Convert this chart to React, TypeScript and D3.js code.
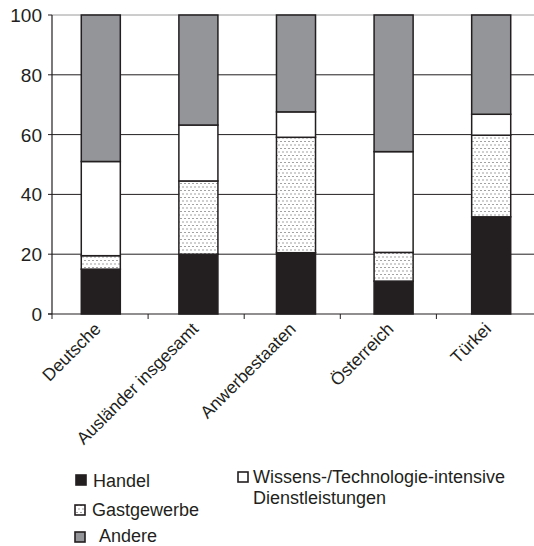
import React, { useEffect, useRef } from 'react';
import * as d3 from 'd3';

// categories and series (percent shares)
const categories = ['Deutsche', 'Ausländer insgesamt', 'Anwerbestaaten', 'Österreich', 'Türkei'];
const handel = [15, 20, 20.5, 11, 32.5];
const gastgewerbe = [4.5, 24.5, 38.6, 9.6, 27.3];
const wissens = [31.5, 18.7, 8.5, 33.7, 7];
const andere = [49, 36.8, 32.4, 45.7, 33.2];
const yTicks = [0, 20, 40, 60, 80, 100];

const seriesKeys = ['handel', 'gast', 'wissens', 'andere'];

const App: React.FC = () => {
  const svgRef = useRef<SVGSVGElement | null>(null);

  useEffect(() => {
    if (!svgRef.current) return;
    const svg = d3.select(svgRef.current);
    svg.selectAll('*').remove();
    const font = 'Liberation Sans, Arial, Helvetica, sans-serif';
    const dark = '#231f20';

    const left = 52;
    const right = 540;
    const top = 15;
    const bottom = 314;

    const x = d3.scaleBand<string>().domain(categories).range([left, right]).paddingInner(0.6).paddingOuter(0.3);
    const y = d3.scaleLinear().domain([0, 100]).range([bottom, top]);

    // dotted pattern
    const defs = svg.append('defs');
    const pat = defs.append('pattern')
      .attr('id', 'dots')
      .attr('patternUnits', 'userSpaceOnUse')
      .attr('width', 4)
      .attr('height', 7);
    pat.append('rect').attr('width', 4).attr('height', 7).attr('fill', '#fff');
    pat.append('rect').attr('x', 0.5).attr('y', 1).attr('width', 1).attr('height', 1).attr('fill', '#444');
    pat.append('rect').attr('x', 2.5).attr('y', 4.5).attr('width', 1).attr('height', 1).attr('fill', '#444');

    // gridlines
    svg.append('g')
      .selectAll('line')
      .data(yTicks.filter(t => t > 0))
      .join('line')
      .attr('x1', left)
      .attr('x2', 534)
      .attr('y1', d => y(d))
      .attr('y2', d => y(d))
      .attr('stroke', d => (d === 100 ? '#9a9a9a' : dark))
      .attr('stroke-width', 1);

    // stacked bars
    const rows = categories.map((c, i) => ({
      cat: c,
      handel: handel[i],
      gast: gastgewerbe[i],
      wissens: wissens[i],
      andere: andere[i],
    }));
    const stacked = d3.stack<any>().keys(seriesKeys)(rows);
    const fills: Record<string, string> = {
      handel: dark,
      gast: 'url(#dots)',
      wissens: '#ffffff',
      andere: '#939598',
    };

    svg.append('g')
      .selectAll('g')
      .data(stacked)
      .join('g')
      .attr('fill', d => fills[d.key])
      .selectAll('rect')
      .data(d => d)
      .join('rect')
      .attr('x', d => x(d.data.cat) as number)
      .attr('y', d => y(d[1]))
      .attr('width', x.bandwidth())
      .attr('height', d => y(d[0]) - y(d[1]))
      .attr('stroke', dark)
      .attr('stroke-width', 1.5);

    // y axis
    const yAxis = svg.append('g');
    yAxis.append('line')
      .attr('x1', left).attr('x2', left)
      .attr('y1', top).attr('y2', bottom)
      .attr('stroke', dark).attr('stroke-width', 1.2);
    yAxis.selectAll('line.tick')
      .data(yTicks)
      .join('line')
      .attr('class', 'tick')
      .attr('x1', left - 4).attr('x2', left)
      .attr('y1', d => y(d)).attr('y2', d => y(d))
      .attr('stroke', dark);
    yAxis.selectAll('text')
      .data(yTicks)
      .join('text')
      .attr('x', left - 10)
      .attr('y', d => y(d) + 7)
      .attr('text-anchor', 'end')
      .attr('font-family', font)
      .attr('font-size', 19)
      .attr('fill', dark)
      .text(d => d);

    // x axis
    const xAxis = svg.append('g');
    xAxis.append('line')
      .attr('x1', left - 4).attr('x2', 534)
      .attr('y1', bottom).attr('y2', bottom)
      .attr('stroke', dark).attr('stroke-width', 1.2);
    xAxis.selectAll('line.tick')
      .data(categories)
      .join('line')
      .attr('class', 'tick')
      .attr('x1', (d, i) => (x(d) as number) - x.bandwidth() * 0.75 - i * 1.5)
      .attr('x2', (d, i) => (x(d) as number) - x.bandwidth() * 0.75 - i * 1.5)
      .attr('y1', bottom).attr('y2', bottom + 5)
      .attr('stroke', dark);
    xAxis.selectAll('text')
      .data(categories)
      .join('text')
      .attr('transform', d => {
        const cx = (x(d) as number) + x.bandwidth() / 2 + 1;
        return `translate(${cx},${bottom + 16}) rotate(-45)`;
      })
      .attr('text-anchor', 'end')
      .attr('font-family', font)
      .attr('font-size', 17.5)
      .attr('fill', dark)
      .text(d => d);

    // legend
    const lg = svg.append('g').attr('font-family', font).attr('font-size', 18).attr('fill', dark);
    const legendItems = [
      { key: 'handel', label: ['Handel'], bx: 76, by: 475, tx: 93, ty: 487 },
      { key: 'gast', label: ['Gastgewerbe'], bx: 75, by: 505, tx: 92, ty: 516 },
      { key: 'andere', label: ['Andere'], bx: 75, by: 532, tx: 99, ty: 542 },
      { key: 'wissens', label: ['Wissens-/Technologie-intensive', 'Dienstleistungen'], bx: 238, by: 472, tx: 253, ty: 483 },
    ];
    legendItems.forEach(it => {
      lg.append('rect')
        .attr('x', it.bx).attr('y', it.by)
        .attr('width', 10).attr('height', 10)
        .attr('fill', it.key === 'gast' ? 'url(#dots)' : fills[it.key])
        .attr('stroke', dark).attr('stroke-width', 1.6);
      it.label.forEach((l, j) => {
        lg.append('text').attr('x', it.tx).attr('y', it.ty + j * 21).text(l);
      });
    });
  }, []);

  return (
    <div style={{ position: 'absolute', left: 0, top: 0 }}>
      <svg ref={svgRef} width={534} height={546} viewBox="0 0 534 546" style={{ display: 'block', background: '#fff' }} />
    </div>
  );
};

export default App;
